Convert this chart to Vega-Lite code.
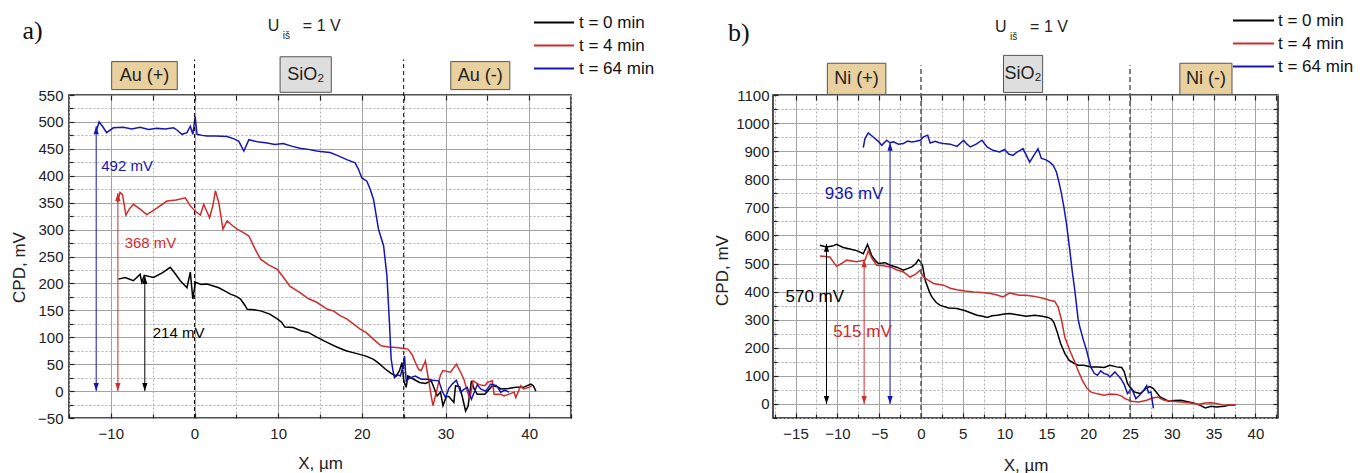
{
"$schema":"https://vega.github.io/schema/vega-lite/v6.json",
"autosize":"none",
"padding":{"left":69,"top":95,"right":1298,"bottom":378},
"background":"white",
"bounds":"flush",
"spacing":202,
"config":{"view":{"stroke":"#1a1a1a","strokeWidth":1.5},"font":"Liberation Sans"},
"resolve":{"scale":{"color":"independent"},"legend":{"color":"independent"}},
"datasets":{
"a_lines":[
{"x":-9.1,"v":208,"t":"t = 0 min"},{"x":-8.3,"v":211,"t":"t = 0 min"},{"x":-7.3,"v":205,"t":"t = 0 min"},{"x":-6.5,"v":217,"t":"t = 0 min"},{"x":-6.3,"v":202,"t":"t = 0 min"},{"x":-6.0,"v":215,"t":"t = 0 min"},{"x":-4.9,"v":211,"t":"t = 0 min"},{"x":-3.8,"v":220,"t":"t = 0 min"},{"x":-2.9,"v":230,"t":"t = 0 min"},{"x":-2.3,"v":218,"t":"t = 0 min"},{"x":-1.7,"v":205,"t":"t = 0 min"},{"x":-0.9,"v":192,"t":"t = 0 min"},{"x":-0.5,"v":221,"t":"t = 0 min"},{"x":-0.2,"v":171,"t":"t = 0 min"},{"x":0.1,"v":202,"t":"t = 0 min"},{"x":0.8,"v":198,"t":"t = 0 min"},{"x":1.5,"v":199,"t":"t = 0 min"},{"x":2.9,"v":192,"t":"t = 0 min"},{"x":3.6,"v":186,"t":"t = 0 min"},{"x":4.3,"v":180,"t":"t = 0 min"},{"x":5.0,"v":176,"t":"t = 0 min"},{"x":5.5,"v":171,"t":"t = 0 min"},{"x":6.0,"v":160,"t":"t = 0 min"},{"x":6.3,"v":152,"t":"t = 0 min"},{"x":7.1,"v":151,"t":"t = 0 min"},{"x":7.9,"v":149,"t":"t = 0 min"},{"x":9.0,"v":143,"t":"t = 0 min"},{"x":9.9,"v":134,"t":"t = 0 min"},{"x":10.4,"v":128,"t":"t = 0 min"},{"x":10.8,"v":119,"t":"t = 0 min"},{"x":11.8,"v":118,"t":"t = 0 min"},{"x":12.7,"v":112,"t":"t = 0 min"},{"x":13.6,"v":109,"t":"t = 0 min"},{"x":14.5,"v":101,"t":"t = 0 min"},{"x":15.9,"v":90,"t":"t = 0 min"},{"x":17.0,"v":82,"t":"t = 0 min"},{"x":18.1,"v":75,"t":"t = 0 min"},{"x":19.3,"v":70,"t":"t = 0 min"},{"x":20.5,"v":65,"t":"t = 0 min"},{"x":21.4,"v":59,"t":"t = 0 min"},{"x":22.0,"v":52,"t":"t = 0 min"},{"x":22.8,"v":41,"t":"t = 0 min"},{"x":23.5,"v":33,"t":"t = 0 min"},{"x":24.1,"v":28,"t":"t = 0 min"},{"x":24.5,"v":38,"t":"t = 0 min"},{"x":24.8,"v":53,"t":"t = 0 min"},{"x":25.0,"v":20,"t":"t = 0 min"},{"x":25.3,"v":7,"t":"t = 0 min"},{"x":25.5,"v":28,"t":"t = 0 min"},{"x":26.2,"v":22,"t":"t = 0 min"},{"x":26.9,"v":16,"t":"t = 0 min"},{"x":27.6,"v":14,"t":"t = 0 min"},{"x":28.3,"v":19,"t":"t = 0 min"},{"x":29.0,"v":-9,"t":"t = 0 min"},{"x":29.4,"v":-2,"t":"t = 0 min"},{"x":29.7,"v":-27,"t":"t = 0 min"},{"x":30.1,"v":-10,"t":"t = 0 min"},{"x":30.4,"v":-10,"t":"t = 0 min"},{"x":31.0,"v":-21,"t":"t = 0 min"},{"x":31.2,"v":10,"t":"t = 0 min"},{"x":31.7,"v":8,"t":"t = 0 min"},{"x":32.0,"v":-10,"t":"t = 0 min"},{"x":32.4,"v":-37,"t":"t = 0 min"},{"x":32.7,"v":-28,"t":"t = 0 min"},{"x":33.1,"v":19,"t":"t = 0 min"},{"x":33.4,"v":5,"t":"t = 0 min"},{"x":33.8,"v":-6,"t":"t = 0 min"},{"x":34.7,"v":-6,"t":"t = 0 min"},{"x":35.6,"v":10,"t":"t = 0 min"},{"x":36.2,"v":8,"t":"t = 0 min"},{"x":36.6,"v":4,"t":"t = 0 min"},{"x":37.5,"v":5,"t":"t = 0 min"},{"x":38.4,"v":7,"t":"t = 0 min"},{"x":39.3,"v":7,"t":"t = 0 min"},{"x":40.2,"v":13,"t":"t = 0 min"},{"x":40.5,"v":10,"t":"t = 0 min"},{"x":40.8,"v":0,"t":"t = 0 min"},
{"x":-9.2,"v":350,"t":"t = 4 min"},{"x":-8.9,"v":369,"t":"t = 4 min"},{"x":-8.6,"v":365,"t":"t = 4 min"},{"x":-8.2,"v":327,"t":"t = 4 min"},{"x":-7.8,"v":338,"t":"t = 4 min"},{"x":-7.3,"v":347,"t":"t = 4 min"},{"x":-6.5,"v":338,"t":"t = 4 min"},{"x":-5.7,"v":328,"t":"t = 4 min"},{"x":-4.5,"v":340,"t":"t = 4 min"},{"x":-3.3,"v":353,"t":"t = 4 min"},{"x":-2.2,"v":355,"t":"t = 4 min"},{"x":-1.1,"v":359,"t":"t = 4 min"},{"x":-0.5,"v":344,"t":"t = 4 min"},{"x":0.1,"v":334,"t":"t = 4 min"},{"x":0.7,"v":327,"t":"t = 4 min"},{"x":1.1,"v":347,"t":"t = 4 min"},{"x":1.8,"v":322,"t":"t = 4 min"},{"x":2.2,"v":345,"t":"t = 4 min"},{"x":2.5,"v":372,"t":"t = 4 min"},{"x":2.9,"v":350,"t":"t = 4 min"},{"x":3.4,"v":301,"t":"t = 4 min"},{"x":3.9,"v":316,"t":"t = 4 min"},{"x":4.5,"v":308,"t":"t = 4 min"},{"x":5.1,"v":301,"t":"t = 4 min"},{"x":5.8,"v":295,"t":"t = 4 min"},{"x":6.5,"v":288,"t":"t = 4 min"},{"x":7.2,"v":265,"t":"t = 4 min"},{"x":7.9,"v":245,"t":"t = 4 min"},{"x":8.8,"v":235,"t":"t = 4 min"},{"x":9.9,"v":226,"t":"t = 4 min"},{"x":10.6,"v":212,"t":"t = 4 min"},{"x":11.4,"v":195,"t":"t = 4 min"},{"x":12.6,"v":183,"t":"t = 4 min"},{"x":13.6,"v":172,"t":"t = 4 min"},{"x":14.6,"v":165,"t":"t = 4 min"},{"x":15.9,"v":152,"t":"t = 4 min"},{"x":16.6,"v":149,"t":"t = 4 min"},{"x":17.4,"v":140,"t":"t = 4 min"},{"x":18.2,"v":134,"t":"t = 4 min"},{"x":19.8,"v":115,"t":"t = 4 min"},{"x":20.5,"v":109,"t":"t = 4 min"},{"x":21.4,"v":96,"t":"t = 4 min"},{"x":22.3,"v":84,"t":"t = 4 min"},{"x":23.2,"v":82,"t":"t = 4 min"},{"x":24.1,"v":81,"t":"t = 4 min"},{"x":25.0,"v":79,"t":"t = 4 min"},{"x":25.5,"v":78,"t":"t = 4 min"},{"x":26.0,"v":68,"t":"t = 4 min"},{"x":26.4,"v":53,"t":"t = 4 min"},{"x":26.8,"v":40,"t":"t = 4 min"},{"x":27.1,"v":38,"t":"t = 4 min"},{"x":27.6,"v":56,"t":"t = 4 min"},{"x":28.0,"v":19,"t":"t = 4 min"},{"x":28.3,"v":-10,"t":"t = 4 min"},{"x":28.5,"v":-27,"t":"t = 4 min"},{"x":29.0,"v":4,"t":"t = 4 min"},{"x":29.4,"v":30,"t":"t = 4 min"},{"x":29.7,"v":38,"t":"t = 4 min"},{"x":30.6,"v":35,"t":"t = 4 min"},{"x":31.3,"v":50,"t":"t = 4 min"},{"x":31.8,"v":35,"t":"t = 4 min"},{"x":32.2,"v":22,"t":"t = 4 min"},{"x":32.6,"v":0,"t":"t = 4 min"},{"x":32.9,"v":-15,"t":"t = 4 min"},{"x":33.3,"v":19,"t":"t = 4 min"},{"x":34.0,"v":12,"t":"t = 4 min"},{"x":34.7,"v":10,"t":"t = 4 min"},{"x":35.0,"v":16,"t":"t = 4 min"},{"x":35.6,"v":19,"t":"t = 4 min"},{"x":35.8,"v":-6,"t":"t = 4 min"},{"x":36.6,"v":-6,"t":"t = 4 min"},{"x":37.0,"v":-9,"t":"t = 4 min"},{"x":38.2,"v":-2,"t":"t = 4 min"},{"x":38.4,"v":-12,"t":"t = 4 min"},{"x":39.0,"v":10,"t":"t = 4 min"},{"x":39.3,"v":4,"t":"t = 4 min"},{"x":40.0,"v":7,"t":"t = 4 min"},{"x":40.3,"v":10,"t":"t = 4 min"},
{"x":-11.8,"v":480,"t":"t = 64 min"},{"x":-11.4,"v":500,"t":"t = 64 min"},{"x":-11.0,"v":492,"t":"t = 64 min"},{"x":-10.5,"v":480,"t":"t = 64 min"},{"x":-9.7,"v":489,"t":"t = 64 min"},{"x":-8.5,"v":490,"t":"t = 64 min"},{"x":-7.5,"v":487,"t":"t = 64 min"},{"x":-6.5,"v":490,"t":"t = 64 min"},{"x":-5.5,"v":486,"t":"t = 64 min"},{"x":-4.5,"v":488,"t":"t = 64 min"},{"x":-3.5,"v":487,"t":"t = 64 min"},{"x":-2.5,"v":489,"t":"t = 64 min"},{"x":-2.1,"v":485,"t":"t = 64 min"},{"x":-1.5,"v":477,"t":"t = 64 min"},{"x":-0.9,"v":480,"t":"t = 64 min"},{"x":-0.5,"v":492,"t":"t = 64 min"},{"x":-0.2,"v":477,"t":"t = 64 min"},{"x":0.08,"v":510,"t":"t = 64 min"},{"x":0.3,"v":477,"t":"t = 64 min"},{"x":0.9,"v":475,"t":"t = 64 min"},{"x":1.5,"v":474,"t":"t = 64 min"},{"x":2.5,"v":474,"t":"t = 64 min"},{"x":3.9,"v":473,"t":"t = 64 min"},{"x":4.8,"v":468,"t":"t = 64 min"},{"x":5.3,"v":464,"t":"t = 64 min"},{"x":5.9,"v":446,"t":"t = 64 min"},{"x":6.5,"v":467,"t":"t = 64 min"},{"x":7.5,"v":463,"t":"t = 64 min"},{"x":8.7,"v":461,"t":"t = 64 min"},{"x":9.6,"v":458,"t":"t = 64 min"},{"x":10.6,"v":460,"t":"t = 64 min"},{"x":11.6,"v":455,"t":"t = 64 min"},{"x":12.6,"v":451,"t":"t = 64 min"},{"x":13.6,"v":449,"t":"t = 64 min"},{"x":14.6,"v":446,"t":"t = 64 min"},{"x":15.6,"v":444,"t":"t = 64 min"},{"x":16.2,"v":443,"t":"t = 64 min"},{"x":17.2,"v":437,"t":"t = 64 min"},{"x":18.2,"v":430,"t":"t = 64 min"},{"x":19.2,"v":424,"t":"t = 64 min"},{"x":19.6,"v":412,"t":"t = 64 min"},{"x":20.0,"v":396,"t":"t = 64 min"},{"x":20.6,"v":390,"t":"t = 64 min"},{"x":21.0,"v":375,"t":"t = 64 min"},{"x":21.4,"v":356,"t":"t = 64 min"},{"x":22.0,"v":300,"t":"t = 64 min"},{"x":22.6,"v":270,"t":"t = 64 min"},{"x":23.0,"v":214,"t":"t = 64 min"},{"x":23.3,"v":127,"t":"t = 64 min"},{"x":23.5,"v":60,"t":"t = 64 min"},{"x":23.7,"v":40,"t":"t = 64 min"},{"x":23.9,"v":25,"t":"t = 64 min"},{"x":24.3,"v":30,"t":"t = 64 min"},{"x":24.6,"v":28,"t":"t = 64 min"},{"x":25.0,"v":50,"t":"t = 64 min"},{"x":25.1,"v":65,"t":"t = 64 min"},{"x":25.3,"v":19,"t":"t = 64 min"},{"x":25.8,"v":25,"t":"t = 64 min"},{"x":26.4,"v":28,"t":"t = 64 min"},{"x":27.1,"v":22,"t":"t = 64 min"},{"x":27.8,"v":22,"t":"t = 64 min"},{"x":28.5,"v":20,"t":"t = 64 min"},{"x":29.2,"v":19,"t":"t = 64 min"},{"x":29.6,"v":0,"t":"t = 64 min"},{"x":30.0,"v":-12,"t":"t = 64 min"},{"x":30.4,"v":5,"t":"t = 64 min"},{"x":30.8,"v":13,"t":"t = 64 min"},{"x":31.3,"v":20,"t":"t = 64 min"},{"x":31.8,"v":-2,"t":"t = 64 min"},{"x":32.2,"v":3,"t":"t = 64 min"},{"x":32.6,"v":7,"t":"t = 64 min"},{"x":33.1,"v":-15,"t":"t = 64 min"},{"x":33.8,"v":12,"t":"t = 64 min"},{"x":34.2,"v":4,"t":"t = 64 min"},{"x":34.8,"v":0,"t":"t = 64 min"},{"x":35.4,"v":13,"t":"t = 64 min"},{"x":36.1,"v":10,"t":"t = 64 min"},{"x":36.6,"v":-2,"t":"t = 64 min"},{"x":37.1,"v":2,"t":"t = 64 min"},{"x":37.6,"v":-2,"t":"t = 64 min"}
],
"b_lines":[
{"x":-12.1,"v":565,"t":"t = 0 min"},{"x":-11.3,"v":559,"t":"t = 0 min"},{"x":-10.6,"v":562,"t":"t = 0 min"},{"x":-10.1,"v":568,"t":"t = 0 min"},{"x":-9.3,"v":557,"t":"t = 0 min"},{"x":-8.5,"v":552,"t":"t = 0 min"},{"x":-7.6,"v":545,"t":"t = 0 min"},{"x":-6.9,"v":535,"t":"t = 0 min"},{"x":-6.4,"v":568,"t":"t = 0 min"},{"x":-5.9,"v":529,"t":"t = 0 min"},{"x":-5.5,"v":512,"t":"t = 0 min"},{"x":-5.1,"v":500,"t":"t = 0 min"},{"x":-4.3,"v":503,"t":"t = 0 min"},{"x":-3.7,"v":494,"t":"t = 0 min"},{"x":-2.9,"v":487,"t":"t = 0 min"},{"x":-2.1,"v":476,"t":"t = 0 min"},{"x":-1.1,"v":488,"t":"t = 0 min"},{"x":-0.6,"v":500,"t":"t = 0 min"},{"x":-0.3,"v":514,"t":"t = 0 min"},{"x":0.0,"v":505,"t":"t = 0 min"},{"x":0.2,"v":490,"t":"t = 0 min"},{"x":0.5,"v":440,"t":"t = 0 min"},{"x":1.0,"v":400,"t":"t = 0 min"},{"x":1.3,"v":381,"t":"t = 0 min"},{"x":1.8,"v":362,"t":"t = 0 min"},{"x":2.3,"v":351,"t":"t = 0 min"},{"x":3.3,"v":342,"t":"t = 0 min"},{"x":4.3,"v":340,"t":"t = 0 min"},{"x":5.3,"v":332,"t":"t = 0 min"},{"x":6.0,"v":324,"t":"t = 0 min"},{"x":6.7,"v":316,"t":"t = 0 min"},{"x":7.4,"v":312,"t":"t = 0 min"},{"x":7.9,"v":308,"t":"t = 0 min"},{"x":8.5,"v":314,"t":"t = 0 min"},{"x":9.1,"v":316,"t":"t = 0 min"},{"x":10.0,"v":320,"t":"t = 0 min"},{"x":10.6,"v":322,"t":"t = 0 min"},{"x":11.5,"v":318,"t":"t = 0 min"},{"x":12.6,"v":312,"t":"t = 0 min"},{"x":13.6,"v":316,"t":"t = 0 min"},{"x":14.5,"v":312,"t":"t = 0 min"},{"x":15.2,"v":308,"t":"t = 0 min"},{"x":15.6,"v":302,"t":"t = 0 min"},{"x":15.9,"v":290,"t":"t = 0 min"},{"x":16.3,"v":255,"t":"t = 0 min"},{"x":16.7,"v":215,"t":"t = 0 min"},{"x":17.2,"v":180,"t":"t = 0 min"},{"x":17.7,"v":156,"t":"t = 0 min"},{"x":18.3,"v":145,"t":"t = 0 min"},{"x":18.8,"v":138,"t":"t = 0 min"},{"x":19.5,"v":138,"t":"t = 0 min"},{"x":20.3,"v":132,"t":"t = 0 min"},{"x":21.2,"v":132,"t":"t = 0 min"},{"x":21.9,"v":130,"t":"t = 0 min"},{"x":22.6,"v":138,"t":"t = 0 min"},{"x":23.4,"v":132,"t":"t = 0 min"},{"x":24.0,"v":130,"t":"t = 0 min"},{"x":24.3,"v":115,"t":"t = 0 min"},{"x":24.7,"v":73,"t":"t = 0 min"},{"x":25.1,"v":55,"t":"t = 0 min"},{"x":25.5,"v":43,"t":"t = 0 min"},{"x":26.2,"v":37,"t":"t = 0 min"},{"x":26.6,"v":46,"t":"t = 0 min"},{"x":27.0,"v":58,"t":"t = 0 min"},{"x":27.4,"v":62,"t":"t = 0 min"},{"x":27.8,"v":55,"t":"t = 0 min"},{"x":28.2,"v":40,"t":"t = 0 min"},{"x":28.6,"v":25,"t":"t = 0 min"},{"x":29.6,"v":10,"t":"t = 0 min"},{"x":30.3,"v":12,"t":"t = 0 min"},{"x":31.1,"v":13,"t":"t = 0 min"},{"x":31.9,"v":8,"t":"t = 0 min"},{"x":32.7,"v":3,"t":"t = 0 min"},{"x":33.4,"v":-5,"t":"t = 0 min"},{"x":34.0,"v":-14,"t":"t = 0 min"},{"x":34.7,"v":-8,"t":"t = 0 min"},{"x":35.3,"v":-11,"t":"t = 0 min"},{"x":36.3,"v":-8,"t":"t = 0 min"},{"x":37.0,"v":-3,"t":"t = 0 min"},{"x":37.6,"v":-5,"t":"t = 0 min"},
{"x":-12.1,"v":527,"t":"t = 4 min"},{"x":-10.9,"v":523,"t":"t = 4 min"},{"x":-10.1,"v":490,"t":"t = 4 min"},{"x":-9.5,"v":500,"t":"t = 4 min"},{"x":-8.9,"v":512,"t":"t = 4 min"},{"x":-7.7,"v":506,"t":"t = 4 min"},{"x":-6.7,"v":512,"t":"t = 4 min"},{"x":-6.3,"v":545,"t":"t = 4 min"},{"x":-5.9,"v":520,"t":"t = 4 min"},{"x":-5.3,"v":494,"t":"t = 4 min"},{"x":-4.5,"v":492,"t":"t = 4 min"},{"x":-3.7,"v":488,"t":"t = 4 min"},{"x":-2.9,"v":478,"t":"t = 4 min"},{"x":-2.1,"v":470,"t":"t = 4 min"},{"x":-1.3,"v":452,"t":"t = 4 min"},{"x":-0.6,"v":463,"t":"t = 4 min"},{"x":-0.1,"v":476,"t":"t = 4 min"},{"x":0.3,"v":452,"t":"t = 4 min"},{"x":0.9,"v":440,"t":"t = 4 min"},{"x":1.5,"v":429,"t":"t = 4 min"},{"x":2.7,"v":423,"t":"t = 4 min"},{"x":3.5,"v":412,"t":"t = 4 min"},{"x":4.3,"v":407,"t":"t = 4 min"},{"x":5.3,"v":402,"t":"t = 4 min"},{"x":6.3,"v":399,"t":"t = 4 min"},{"x":7.3,"v":397,"t":"t = 4 min"},{"x":8.3,"v":393,"t":"t = 4 min"},{"x":9.0,"v":389,"t":"t = 4 min"},{"x":9.8,"v":381,"t":"t = 4 min"},{"x":10.6,"v":395,"t":"t = 4 min"},{"x":11.8,"v":387,"t":"t = 4 min"},{"x":12.6,"v":387,"t":"t = 4 min"},{"x":13.6,"v":383,"t":"t = 4 min"},{"x":14.6,"v":376,"t":"t = 4 min"},{"x":15.4,"v":369,"t":"t = 4 min"},{"x":16.0,"v":365,"t":"t = 4 min"},{"x":16.4,"v":345,"t":"t = 4 min"},{"x":16.8,"v":300,"t":"t = 4 min"},{"x":17.2,"v":238,"t":"t = 4 min"},{"x":17.8,"v":190,"t":"t = 4 min"},{"x":18.3,"v":156,"t":"t = 4 min"},{"x":18.8,"v":118,"t":"t = 4 min"},{"x":19.3,"v":84,"t":"t = 4 min"},{"x":19.8,"v":58,"t":"t = 4 min"},{"x":20.3,"v":43,"t":"t = 4 min"},{"x":21.1,"v":36,"t":"t = 4 min"},{"x":21.9,"v":31,"t":"t = 4 min"},{"x":22.6,"v":35,"t":"t = 4 min"},{"x":23.4,"v":34,"t":"t = 4 min"},{"x":24.0,"v":28,"t":"t = 4 min"},{"x":24.4,"v":19,"t":"t = 4 min"},{"x":25.2,"v":10,"t":"t = 4 min"},{"x":26.0,"v":7,"t":"t = 4 min"},{"x":26.5,"v":10,"t":"t = 4 min"},{"x":27.0,"v":13,"t":"t = 4 min"},{"x":27.6,"v":20,"t":"t = 4 min"},{"x":28.3,"v":25,"t":"t = 4 min"},{"x":28.7,"v":18,"t":"t = 4 min"},{"x":29.1,"v":13,"t":"t = 4 min"},{"x":30.0,"v":10,"t":"t = 4 min"},{"x":31.1,"v":7,"t":"t = 4 min"},{"x":32.2,"v":3,"t":"t = 4 min"},{"x":33.2,"v":-1,"t":"t = 4 min"},{"x":34.0,"v":3,"t":"t = 4 min"},{"x":34.8,"v":4,"t":"t = 4 min"},{"x":35.6,"v":0,"t":"t = 4 min"},{"x":36.3,"v":-5,"t":"t = 4 min"},{"x":37.0,"v":-3,"t":"t = 4 min"},{"x":37.6,"v":-4,"t":"t = 4 min"},
{"x":-6.9,"v":913,"t":"t = 64 min"},{"x":-6.7,"v":945,"t":"t = 64 min"},{"x":-6.3,"v":965,"t":"t = 64 min"},{"x":-5.9,"v":955,"t":"t = 64 min"},{"x":-5.5,"v":945,"t":"t = 64 min"},{"x":-5.1,"v":935,"t":"t = 64 min"},{"x":-4.7,"v":921,"t":"t = 64 min"},{"x":-4.1,"v":939,"t":"t = 64 min"},{"x":-3.7,"v":930,"t":"t = 64 min"},{"x":-3.3,"v":933,"t":"t = 64 min"},{"x":-2.7,"v":925,"t":"t = 64 min"},{"x":-2.1,"v":927,"t":"t = 64 min"},{"x":-1.6,"v":936,"t":"t = 64 min"},{"x":-1.1,"v":933,"t":"t = 64 min"},{"x":-0.6,"v":935,"t":"t = 64 min"},{"x":-0.1,"v":939,"t":"t = 64 min"},{"x":0.3,"v":951,"t":"t = 64 min"},{"x":0.8,"v":957,"t":"t = 64 min"},{"x":1.1,"v":929,"t":"t = 64 min"},{"x":1.7,"v":935,"t":"t = 64 min"},{"x":2.2,"v":930,"t":"t = 64 min"},{"x":2.7,"v":927,"t":"t = 64 min"},{"x":3.5,"v":925,"t":"t = 64 min"},{"x":4.3,"v":917,"t":"t = 64 min"},{"x":5.1,"v":939,"t":"t = 64 min"},{"x":5.5,"v":925,"t":"t = 64 min"},{"x":5.9,"v":915,"t":"t = 64 min"},{"x":6.6,"v":925,"t":"t = 64 min"},{"x":7.3,"v":939,"t":"t = 64 min"},{"x":7.9,"v":915,"t":"t = 64 min"},{"x":8.6,"v":903,"t":"t = 64 min"},{"x":9.4,"v":897,"t":"t = 64 min"},{"x":10.0,"v":906,"t":"t = 64 min"},{"x":10.5,"v":890,"t":"t = 64 min"},{"x":11.0,"v":885,"t":"t = 64 min"},{"x":11.4,"v":895,"t":"t = 64 min"},{"x":12.2,"v":909,"t":"t = 64 min"},{"x":13.0,"v":861,"t":"t = 64 min"},{"x":13.5,"v":885,"t":"t = 64 min"},{"x":14.0,"v":909,"t":"t = 64 min"},{"x":14.4,"v":874,"t":"t = 64 min"},{"x":14.9,"v":870,"t":"t = 64 min"},{"x":15.4,"v":861,"t":"t = 64 min"},{"x":15.8,"v":850,"t":"t = 64 min"},{"x":16.2,"v":826,"t":"t = 64 min"},{"x":16.5,"v":790,"t":"t = 64 min"},{"x":16.8,"v":749,"t":"t = 64 min"},{"x":17.1,"v":700,"t":"t = 64 min"},{"x":17.4,"v":642,"t":"t = 64 min"},{"x":17.8,"v":547,"t":"t = 64 min"},{"x":18.1,"v":470,"t":"t = 64 min"},{"x":18.4,"v":404,"t":"t = 64 min"},{"x":18.8,"v":300,"t":"t = 64 min"},{"x":19.0,"v":274,"t":"t = 64 min"},{"x":19.4,"v":230,"t":"t = 64 min"},{"x":19.8,"v":191,"t":"t = 64 min"},{"x":20.3,"v":132,"t":"t = 64 min"},{"x":20.7,"v":110,"t":"t = 64 min"},{"x":21.1,"v":102,"t":"t = 64 min"},{"x":21.5,"v":118,"t":"t = 64 min"},{"x":21.9,"v":108,"t":"t = 64 min"},{"x":22.3,"v":105,"t":"t = 64 min"},{"x":22.6,"v":96,"t":"t = 64 min"},{"x":23.0,"v":108,"t":"t = 64 min"},{"x":23.2,"v":114,"t":"t = 64 min"},{"x":23.6,"v":100,"t":"t = 64 min"},{"x":23.9,"v":90,"t":"t = 64 min"},{"x":24.3,"v":70,"t":"t = 64 min"},{"x":24.7,"v":37,"t":"t = 64 min"},{"x":25.2,"v":55,"t":"t = 64 min"},{"x":25.7,"v":19,"t":"t = 64 min"},{"x":26.1,"v":30,"t":"t = 64 min"},{"x":26.5,"v":43,"t":"t = 64 min"},{"x":27.0,"v":65,"t":"t = 64 min"},{"x":27.2,"v":40,"t":"t = 64 min"},{"x":27.5,"v":43,"t":"t = 64 min"},{"x":27.8,"v":-16,"t":"t = 64 min"}
],
"a_arrows":[{"x":-11.75,"lo":0,"hi":492,"t":"t = 64 min"},{"x":-9.16,"lo":0,"hi":368,"t":"t = 4 min"},{"x":-5.94,"lo":0,"hi":214,"t":"t = 0 min"}],
"b_arrows":[{"x":-11.3,"lo":0,"hi":570,"t":"t = 0 min"},{"x":-6.8,"lo":0,"hi":515,"t":"t = 4 min"},{"x":-3.7,"lo":0,"hi":930,"t":"t = 64 min"}],
"a_labels":[{"x":-8.06,"v":418,"label":"492 mV","t":"t = 64 min"},{"x":-5.26,"v":275,"label":"368 mV","t":"t = 4 min"},{"x":-1.9,"v":107,"label":"214 mV","t":"t = 0 min"}],
"b_labels":[{"x":-8.0,"v":749,"label":"936 mV","t":"t = 64 min"},{"x":-12.7,"v":381,"label":"570 mV","t":"t = 0 min"},{"x":-7.0,"v":256,"label":"515 mV","t":"t = 4 min"}],
"a_boxes":[{"x1":-9.9,"x2":-2.06,"y1":560,"y2":612,"cx":-5.98,"cy":586,"label":"Au (+)","kind":"metal"},{"x1":10.23,"x2":16.35,"y1":555,"y2":621,"cx":13.29,"cy":588,"label":"SiO₂","kind":"oxide"},{"x1":30.63,"x2":37.69,"y1":560,"y2":612,"cx":34.16,"cy":586,"label":"Au (-)","kind":"metal"}],
"b_boxes":[{"x1":-11.2,"x2":-4.2,"y1":1102,"y2":1213,"cx":-7.7,"cy":1158,"label":"Ni (+)","kind":"metal"},{"x1":9.87,"x2":14.55,"y1":1109,"y2":1241,"cx":12.21,"cy":1175,"label":"SiO₂","kind":"oxide"},{"x1":30.96,"x2":37.2,"y1":1102,"y2":1213,"cx":34.08,"cy":1158,"label":"Ni (-)","kind":"metal"}],
"a_dash":[{"x":0,"lo":-50,"hi":616},{"x":25,"lo":-50,"hi":616}],
"b_dash":[{"x":0,"lo":-50,"hi":1206},{"x":25,"lo":-50,"hi":1206}]
},
"hconcat":[
{
"width":502,"height":323,
"resolve":{"axis":{"x":"independent","y":"independent"}},
"layer":[
{"data":{"name":"a_lines"},"mark":{"type":"line","strokeWidth":1.5},
"encoding":{
"x":{"field":"x","type":"quantitative","scale":{"domain":[-15,45],"nice":false,"zero":false},"axis":{"orient":"bottom","values":[-10,0,10,20,30,40],"domain":false,"grid":true,"gridColor":"#a3a3a3","gridWidth":1,"tickSize":-5,"tickColor":"#222","tickWidth":1.2,"labelPadding":13,"labelFontSize":15,"labelColor":"#222","labelFont":"Liberation Sans","labelFlush":false,"labelOverlap":false,"title":"X, µm","titleFont":"Liberation Sans","titleFontSize":17,"titleFontWeight":"normal","titleColor":"#222","titleY":45,"titleBaseline":"middle"}},
"y":{"field":"v","type":"quantitative","scale":{"domain":[-50,550],"nice":false,"zero":false},"axis":{"orient":"left","values":[-50,0,50,100,150,200,250,300,350,400,450,500,550],"format":"d","domain":false,"grid":true,"gridColor":"#a3a3a3","gridWidth":1,"tickSize":-5,"tickColor":"#222","tickWidth":1.2,"labelPadding":11,"labelFontSize":15,"labelColor":"#222","labelFont":"Liberation Sans","labelOverlap":false,"title":"CPD, mV","titleFont":"Liberation Sans","titleFontSize":17,"titleFontWeight":"normal","titleColor":"#222","titleX":-50,"titleY":172,"titleBaseline":"middle","titleAngle":270}},
"color":{"field":"t","type":"nominal","scale":{"domain":["t = 0 min","t = 4 min","t = 64 min"],"range":["#000000","#d12b2b","#1616b4"]},"legend":{"orient":"none","legendX":464,"legendY":-84,"title":null,"symbolType":"stroke","symbolSize":1600,"symbolStrokeWidth":2,"clipHeight":23,"labelFont":"Liberation Sans","labelFontSize":17,"labelColor":"#111","labelOffset":4,"padding":0,"rowPadding":0}}
}},
{"data":{"name":"a_lines"},"mark":{"type":"point","opacity":0},
"encoding":{
"x":{"field":"x","type":"quantitative","scale":{"domain":[-15,45],"nice":false,"zero":false},"axis":{"orient":"bottom","values":[-15,-5,5,15,25,35,45],"domain":false,"labels":false,"grid":true,"gridColor":"#b0b0b0","gridDash":[2,2],"gridWidth":1,"tickSize":-4,"tickColor":"#222","tickWidth":1.2,"title":null}},
"y":{"field":"v","type":"quantitative","scale":{"domain":[-50,550],"nice":false,"zero":false},"axis":{"orient":"left","values":[-25,25,75,125,175,225,275,325,375,425,475,525],"domain":false,"labels":false,"grid":true,"gridColor":"#b0b0b0","gridDash":[2,2],"gridWidth":1,"tickSize":-4,"tickColor":"#222","tickWidth":1.2,"title":null}}
}},
{"data":{"name":"a_lines"},"mark":{"type":"point","opacity":0},
"encoding":{
"x":{"field":"x","type":"quantitative","scale":{"domain":[-15,45],"nice":false,"zero":false},"axis":{"orient":"top","values":[-10,-5,0,5,10,15,20,25,30,35,40],"domain":false,"labels":false,"grid":false,"tickSize":-5,"tickColor":"#222","tickWidth":1.2,"title":null}},
"y":{"field":"v","type":"quantitative","scale":{"domain":[-50,550],"nice":false,"zero":false},"axis":{"orient":"right","values":[-25,0,25,50,75,100,125,150,175,200,225,250,275,300,325,350,375,400,425,450,475,500,525],"domain":false,"labels":false,"grid":false,"tickSize":-5,"tickColor":"#222","tickWidth":1.2,"title":null}}
}},
{"data":{"name":"a_dash"},"mark":{"type":"rule","color":"#111","strokeWidth":1,"strokeDash":[4,3]},
"encoding":{"x":{"field":"x","type":"quantitative","scale":{"domain":[-15,45],"nice":false,"zero":false},"axis":null},"y":{"field":"lo","type":"quantitative","scale":{"domain":[-50,550],"nice":false,"zero":false},"axis":null},"y2":{"field":"hi"}}},
{"data":{"name":"a_arrows"},"mark":{"type":"rule","strokeWidth":1},
"encoding":{"x":{"field":"x","type":"quantitative","scale":{"domain":[-15,45],"nice":false,"zero":false},"axis":null},"y":{"field":"lo","type":"quantitative","scale":{"domain":[-50,550],"nice":false,"zero":false},"axis":null},"y2":{"field":"hi"},"color":{"field":"t","type":"nominal","legend":null}}},
{"data":{"name":"a_arrows"},"mark":{"type":"point","filled":true,"opacity":1,"size":256,"strokeWidth":0,"shape":"M0,0L-0.33,1L0.33,1Z"},
"encoding":{"x":{"field":"x","type":"quantitative","scale":{"domain":[-15,45],"nice":false,"zero":false},"axis":null},"y":{"field":"hi","type":"quantitative","scale":{"domain":[-50,550],"nice":false,"zero":false},"axis":null},"color":{"field":"t","type":"nominal","legend":null}}},
{"data":{"name":"a_arrows"},"mark":{"type":"point","filled":true,"opacity":1,"size":256,"strokeWidth":0,"shape":"M0,0L-0.33,-1L0.33,-1Z"},
"encoding":{"x":{"field":"x","type":"quantitative","scale":{"domain":[-15,45],"nice":false,"zero":false},"axis":null},"y":{"field":"lo","type":"quantitative","scale":{"domain":[-50,550],"nice":false,"zero":false},"axis":null},"color":{"field":"t","type":"nominal","legend":null}}},
{"data":{"name":"a_labels"},"mark":{"type":"text","font":"Liberation Sans","fontSize":15,"align":"center","baseline":"middle"},
"encoding":{"x":{"field":"x","type":"quantitative","scale":{"domain":[-15,45],"nice":false,"zero":false},"axis":null},"y":{"field":"v","type":"quantitative","scale":{"domain":[-50,550],"nice":false,"zero":false},"axis":null},"text":{"field":"label"},"color":{"field":"t","type":"nominal","legend":null}}},
{"data":{"name":"a_boxes"},"mark":{"type":"rect","stroke":"#555","strokeWidth":1},
"encoding":{"x":{"field":"x1","type":"quantitative","scale":{"domain":[-15,45],"nice":false,"zero":false},"axis":null},"x2":{"field":"x2"},"y":{"field":"y1","type":"quantitative","scale":{"domain":[-50,550],"nice":false,"zero":false},"axis":null},"y2":{"field":"y2"},"fill":{"field":"kind","type":"nominal","scale":{"domain":["metal","oxide"],"range":["#e9d09f","#dedede"]},"legend":null}}},
{"data":{"name":"a_boxes"},"mark":{"type":"text","font":"Liberation Sans","fontSize":18,"align":"center","baseline":"middle","color":"#222"},
"encoding":{"x":{"field":"cx","type":"quantitative","scale":{"domain":[-15,45],"nice":false,"zero":false},"axis":null},"y":{"field":"cy","type":"quantitative","scale":{"domain":[-50,550],"nice":false,"zero":false},"axis":null},"text":{"field":"label"}}},
{"data":{"values":[{"x":-19.35,"v":668,"txt":"a)"}]},"mark":{"type":"text","font":"Liberation Serif","fontSize":26,"align":"center","baseline":"middle","color":"#111"},
"encoding":{"x":{"field":"x","type":"quantitative","scale":{"domain":[-15,45],"nice":false,"zero":false},"axis":null},"y":{"field":"v","type":"quantitative","scale":{"domain":[-50,550],"nice":false,"zero":false},"axis":null},"text":{"field":"txt"}}},
{"data":{"values":[{"x":8.75,"v":679,"txt":"U"},{"x":12.95,"v":679,"txt":"= 1 V"}]},"mark":{"type":"text","font":"Liberation Sans","fontSize":16,"align":"left","baseline":"middle","color":"#222"},
"encoding":{"x":{"field":"x","type":"quantitative","scale":{"domain":[-15,45],"nice":false,"zero":false},"axis":null},"y":{"field":"v","type":"quantitative","scale":{"domain":[-50,550],"nice":false,"zero":false},"axis":null},"text":{"field":"txt"}}},
{"data":{"values":[{"x":10.55,"v":660,"txt":"iš"}]},"mark":{"type":"text","font":"Liberation Sans","fontSize":10,"align":"left","baseline":"middle","color":"#222"},
"encoding":{"x":{"field":"x","type":"quantitative","scale":{"domain":[-15,45],"nice":false,"zero":false},"axis":null},"y":{"field":"v","type":"quantitative","scale":{"domain":[-50,550],"nice":false,"zero":false},"axis":null},"text":{"field":"txt"}}}
]
},
{
"width":505,"height":323,
"resolve":{"axis":{"x":"independent","y":"independent"}},
"layer":[
{"data":{"name":"b_lines"},"mark":{"type":"line","strokeWidth":1.5},
"encoding":{
"x":{"field":"x","type":"quantitative","scale":{"domain":[-17.7,42.7],"nice":false,"zero":false},"axis":{"orient":"bottom","values":[-15,-10,-5,0,5,10,15,20,25,30,35,40],"domain":false,"grid":true,"gridColor":"#a3a3a3","gridWidth":1,"tickSize":-5,"tickColor":"#222","tickWidth":1.2,"labelPadding":13,"labelFontSize":15,"labelColor":"#222","labelFont":"Liberation Sans","labelFlush":false,"labelOverlap":false,"title":"X, µm","titleFont":"Liberation Sans","titleFontSize":17,"titleFontWeight":"normal","titleColor":"#222","titleY":47,"titleBaseline":"middle"}},
"y":{"field":"v","type":"quantitative","scale":{"domain":[-50,1100],"nice":false,"zero":false},"axis":{"orient":"left","values":[0,100,200,300,400,500,600,700,800,900,1000,1100],"format":"d","domain":false,"grid":true,"gridColor":"#a3a3a3","gridWidth":1,"tickSize":-5,"tickColor":"#222","tickWidth":1.2,"labelPadding":9,"labelFontSize":15,"labelColor":"#222","labelFont":"Liberation Sans","labelOverlap":false,"title":"CPD, mV","titleFont":"Liberation Sans","titleFontSize":17,"titleFontWeight":"normal","titleColor":"#222","titleX":-51,"titleY":175,"titleBaseline":"middle","titleAngle":270}},
"color":{"field":"t","type":"nominal","scale":{"domain":["t = 0 min","t = 4 min","t = 64 min"],"range":["#000000","#d12b2b","#1616b4"]},"legend":{"orient":"none","legendX":459,"legendY":-86,"title":null,"symbolType":"stroke","symbolSize":1681,"symbolStrokeWidth":2,"clipHeight":23,"labelFont":"Liberation Sans","labelFontSize":17,"labelColor":"#111","labelOffset":3,"padding":0,"rowPadding":0}}
}},
{"data":{"name":"b_lines"},"mark":{"type":"point","opacity":0},
"encoding":{
"x":{"field":"x","type":"quantitative","scale":{"domain":[-17.7,42.7],"nice":false,"zero":false},"axis":{"orient":"bottom","values":[-17.5,-12.5,-7.5,-2.5,2.5,7.5,12.5,17.5,22.5,27.5,32.5,37.5,42.5],"domain":false,"labels":false,"grid":true,"gridColor":"#b0b0b0","gridDash":[2,2],"gridWidth":1,"tickSize":-4,"tickColor":"#222","tickWidth":1.2,"title":null}},
"y":{"field":"v","type":"quantitative","scale":{"domain":[-50,1100],"nice":false,"zero":false},"axis":{"orient":"left","values":[-50,50,150,250,350,450,550,650,750,850,950,1050],"domain":false,"labels":false,"grid":true,"gridColor":"#b0b0b0","gridDash":[2,2],"gridWidth":1,"tickSize":-4,"tickColor":"#222","tickWidth":1.2,"title":null}}
}},
{"data":{"name":"b_lines"},"mark":{"type":"point","opacity":0},
"encoding":{
"x":{"field":"x","type":"quantitative","scale":{"domain":[-17.7,42.7],"nice":false,"zero":false},"axis":{"orient":"top","values":[-15,-12.5,-10,-7.5,-5,-2.5,0,2.5,5,7.5,10,12.5,15,17.5,20,22.5,25,27.5,30,32.5,35,37.5,40,42.5],"domain":false,"labels":false,"grid":false,"tickSize":-5,"tickColor":"#222","tickWidth":1.2,"title":null}},
"y":{"field":"v","type":"quantitative","scale":{"domain":[-50,1100],"nice":false,"zero":false},"axis":{"orient":"right","values":[0,50,100,150,200,250,300,350,400,450,500,550,600,650,700,750,800,850,900,950,1000,1050],"domain":false,"labels":false,"grid":false,"tickSize":-5,"tickColor":"#222","tickWidth":1.2,"title":null}}
}},
{"data":{"name":"b_dash"},"mark":{"type":"rule","color":"#5a5a5a","strokeWidth":1.5,"strokeDash":[5,3]},
"encoding":{"x":{"field":"x","type":"quantitative","scale":{"domain":[-17.7,42.7],"nice":false,"zero":false},"axis":null},"y":{"field":"lo","type":"quantitative","scale":{"domain":[-50,1100],"nice":false,"zero":false},"axis":null},"y2":{"field":"hi"}}},
{"data":{"name":"b_arrows"},"mark":{"type":"rule","strokeWidth":1},
"encoding":{"x":{"field":"x","type":"quantitative","scale":{"domain":[-17.7,42.7],"nice":false,"zero":false},"axis":null},"y":{"field":"lo","type":"quantitative","scale":{"domain":[-50,1100],"nice":false,"zero":false},"axis":null},"y2":{"field":"hi"},"color":{"field":"t","type":"nominal","legend":null}}},
{"data":{"name":"b_arrows"},"mark":{"type":"point","filled":true,"opacity":1,"size":256,"strokeWidth":0,"shape":"M0,0L-0.33,1L0.33,1Z"},
"encoding":{"x":{"field":"x","type":"quantitative","scale":{"domain":[-17.7,42.7],"nice":false,"zero":false},"axis":null},"y":{"field":"hi","type":"quantitative","scale":{"domain":[-50,1100],"nice":false,"zero":false},"axis":null},"color":{"field":"t","type":"nominal","legend":null}}},
{"data":{"name":"b_arrows"},"mark":{"type":"point","filled":true,"opacity":1,"size":256,"strokeWidth":0,"shape":"M0,0L-0.33,-1L0.33,-1Z"},
"encoding":{"x":{"field":"x","type":"quantitative","scale":{"domain":[-17.7,42.7],"nice":false,"zero":false},"axis":null},"y":{"field":"lo","type":"quantitative","scale":{"domain":[-50,1100],"nice":false,"zero":false},"axis":null},"color":{"field":"t","type":"nominal","legend":null}}},
{"data":{"name":"b_labels"},"mark":{"type":"text","font":"Liberation Sans","fontSize":17,"align":"center","baseline":"middle"},
"encoding":{"x":{"field":"x","type":"quantitative","scale":{"domain":[-17.7,42.7],"nice":false,"zero":false},"axis":null},"y":{"field":"v","type":"quantitative","scale":{"domain":[-50,1100],"nice":false,"zero":false},"axis":null},"text":{"field":"label"},"color":{"field":"t","type":"nominal","legend":null}}},
{"data":{"name":"b_boxes"},"mark":{"type":"rect","stroke":"#555","strokeWidth":1},
"encoding":{"x":{"field":"x1","type":"quantitative","scale":{"domain":[-17.7,42.7],"nice":false,"zero":false},"axis":null},"x2":{"field":"x2"},"y":{"field":"y1","type":"quantitative","scale":{"domain":[-50,1100],"nice":false,"zero":false},"axis":null},"y2":{"field":"y2"},"fill":{"field":"kind","type":"nominal","scale":{"domain":["metal","oxide"],"range":["#e9d09f","#dedede"]},"legend":null}}},
{"data":{"name":"b_boxes"},"mark":{"type":"text","font":"Liberation Sans","fontSize":18,"align":"center","baseline":"middle","color":"#222"},
"encoding":{"x":{"field":"cx","type":"quantitative","scale":{"domain":[-17.7,42.7],"nice":false,"zero":false},"axis":null},"y":{"field":"cy","type":"quantitative","scale":{"domain":[-50,1100],"nice":false,"zero":false},"axis":null},"text":{"field":"label"}}},
{"data":{"values":[{"x":-21.8,"v":1320,"txt":"b)"}]},"mark":{"type":"text","font":"Liberation Serif","fontSize":26,"align":"center","baseline":"middle","color":"#111"},
"encoding":{"x":{"field":"x","type":"quantitative","scale":{"domain":[-17.7,42.7],"nice":false,"zero":false},"axis":null},"y":{"field":"v","type":"quantitative","scale":{"domain":[-50,1100],"nice":false,"zero":false},"axis":null},"text":{"field":"txt"}}},
{"data":{"values":[{"x":8.85,"v":1341,"txt":"U"},{"x":13.05,"v":1341,"txt":"= 1 V"}]},"mark":{"type":"text","font":"Liberation Sans","fontSize":16,"align":"left","baseline":"middle","color":"#222"},
"encoding":{"x":{"field":"x","type":"quantitative","scale":{"domain":[-17.7,42.7],"nice":false,"zero":false},"axis":null},"y":{"field":"v","type":"quantitative","scale":{"domain":[-50,1100],"nice":false,"zero":false},"axis":null},"text":{"field":"txt"}}},
{"data":{"values":[{"x":10.65,"v":1305,"txt":"iš"}]},"mark":{"type":"text","font":"Liberation Sans","fontSize":10,"align":"left","baseline":"middle","color":"#222"},
"encoding":{"x":{"field":"x","type":"quantitative","scale":{"domain":[-17.7,42.7],"nice":false,"zero":false},"axis":null},"y":{"field":"v","type":"quantitative","scale":{"domain":[-50,1100],"nice":false,"zero":false},"axis":null},"text":{"field":"txt"}}}
]
}
]
}
